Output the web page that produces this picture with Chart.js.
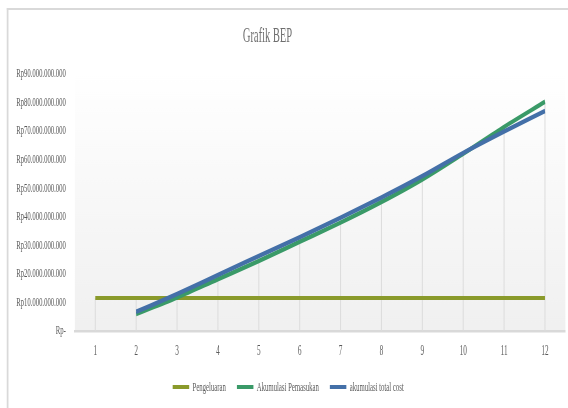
<!DOCTYPE html>
<html>
<head>
<meta charset="utf-8">
<script src="https://cdn.jsdelivr.net/npm/chart.js@4/dist/chart.umd.min.js"></script>
<style>
  html, body { margin: 0; padding: 0; background: #fff; overflow: hidden; }
  #bep { display: block; }
</style>
</head>
<body>
<!-- drawn twice as wide and squeezed to 568px, like the original picture -->
<canvas id="bep" width="1136" height="408" style="width:568px;height:408px"></canvas>
<script>
const bulan = ['1', '2', '3', '4', '5', '6', '7', '8', '9', '10', '11', '12'];
const pengeluaran = [11.5e9, 11.5e9, 11.5e9, 11.5e9, 11.5e9, 11.5e9, 11.5e9, 11.5e9, 11.5e9, 11.5e9, 11.5e9, 11.5e9];
const akumulasiPemasukan = [null, 5.9e9, 11.7e9, 18.1e9, 24.5e9, 31.2e9, 37.9e9, 45.1e9, 53.0e9, 62.0e9, 71.4e9, 80.2e9];
const akumulasiTotalCost = [null, 6.7e9, 12.9e9, 19.6e9, 26.2e9, 32.8e9, 39.6e9, 46.7e9, 54.2e9, 62.3e9, 69.8e9, 77.0e9];
const yTickLabels = [
    'Rp-',
    'Rp10.000.000.000',
    'Rp20.000.000.000',
    'Rp30.000.000.000',
    'Rp40.000.000.000',
    'Rp50.000.000.000',
    'Rp60.000.000.000',
    'Rp70.000.000.000',
    'Rp80.000.000.000',
    'Rp90.000.000.000',
];

const FONT = '"Liberation Serif", "Times New Roman", serif';
const grey = '#595959';

// frame, plot background and title
const backdrop = {
    id: 'backdrop',
    beforeDraw(chart) {
        const { ctx, chartArea: a } = chart;
        ctx.save();
        ctx.fillStyle = '#d9d9d9';
        ctx.fillRect(13.5, 8, chart.width, 2);
        ctx.fillRect(13.5, 8, 3.4, chart.height);
        const g = ctx.createLinearGradient(0, a.top, 0, a.bottom);
        g.addColorStop(0, '#ffffff');
        g.addColorStop(1, '#f0f0f0');
        ctx.fillStyle = g;
        ctx.fillRect(a.left, a.top, a.right - a.left, a.bottom - a.top);
        ctx.fillStyle = '#6e6e6e';
        ctx.font = '21px ' + FONT;
        ctx.textAlign = 'center';
        ctx.textBaseline = 'middle';
        ctx.fillText('Grafik BEP', 535, 36.7);
        ctx.restore();
    },
};

// drop lines from the highest point of each month down to the axis
const dropLines = {
    id: 'dropLines',
    beforeDatasetsDraw(chart) {
        const { ctx, scales: { x, y }, chartArea } = chart;
        ctx.save();
        ctx.strokeStyle = '#dcdcdc';
        ctx.lineWidth = 2;
        bulan.forEach((b, i) => {
            const vals = chart.data.datasets.map(d => d.data[i]).filter(v => v != null);
            if (!vals.length) return;
            const px = x.getPixelForValue(i);
            ctx.beginPath();
            ctx.moveTo(px, y.getPixelForValue(Math.max(...vals)));
            ctx.lineTo(px, chartArea.bottom);
            ctx.stroke();
        });
        ctx.restore();
    },
};

const bepConfig = {
    type: 'line',
    data: {
        labels: bulan,
        datasets: [
            {
                label: 'Pengeluaran',
                data: pengeluaran,
                borderColor: '#8a9a2b',
                backgroundColor: '#8a9a2b',
                borderWidth: 3.9,
                order: 3,
            },
            {
                label: 'Akumulasi Pemasukan',
                data: akumulasiPemasukan,
                borderColor: '#3a9a68',
                backgroundColor: '#3a9a68',
                borderWidth: 4.6,
                order: 2,
            },
            {
                label: 'akumulasi total cost',
                data: akumulasiTotalCost,
                borderColor: '#4470a8',
                backgroundColor: '#4470a8',
                borderWidth: 4.6,
                order: 1,
            },
        ],
    },
    options: {
        responsive: false,
        devicePixelRatio: 1,
        animation: false,
        layout: {
            padding: { left: 22, right: 5.2, top: 73.8, bottom: 4.2 },
        },
        elements: {
            point: { radius: 0, hoverRadius: 0 },
            line: { cubicInterpolationMode: 'monotone', fill: false },
        },
        scales: {
            x: {
                offset: true,
                grid: { display: false, drawTicks: false },
                border: { display: true, color: '#d9d9d9', width: 2.5 },
                ticks: {
                    color: grey,
                    padding: 12,
                    font: { family: FONT, size: 14.5 },
                },
                afterFit(scale) { scale.height = 27.4 },
            },
            y: {
                min: 0,
                max: 90e9,
                grid: { display: false, drawTicks: false },
                border: { display: false },
                ticks: {
                    stepSize: 10e9,
                    color: grey,
                    padding: 18,
                    font: { family: FONT, size: 13.4 },
                    callback: (v, i) => yTickLabels[i],
                },
                afterFit(scale) { scale.width = 127.7 },
            },
        },
        plugins: {
            title: { display: false },
            tooltip: { enabled: false },
            legend: {
                position: 'bottom',
                labels: {
                    color: grey,
                    font: { family: FONT, size: 13.5 },
                    boxWidth: 33,
                    boxHeight: 4,
                    padding: 22,
                    sort: (a, b) => a.datasetIndex - b.datasetIndex,
                    generateLabels(chart) {
                        return Chart.defaults.plugins.legend.labels.generateLabels(chart)
                            .map(l => ({ ...l, lineWidth: 0, fillStyle: l.strokeStyle }));
                    },
                },
            },
        },
    },
    plugins: [backdrop, dropLines],
};

const bepCtx = document.getElementById('bep');
window.bepChart = new Chart(bepCtx, bepConfig);
</script>
</body>
</html>
